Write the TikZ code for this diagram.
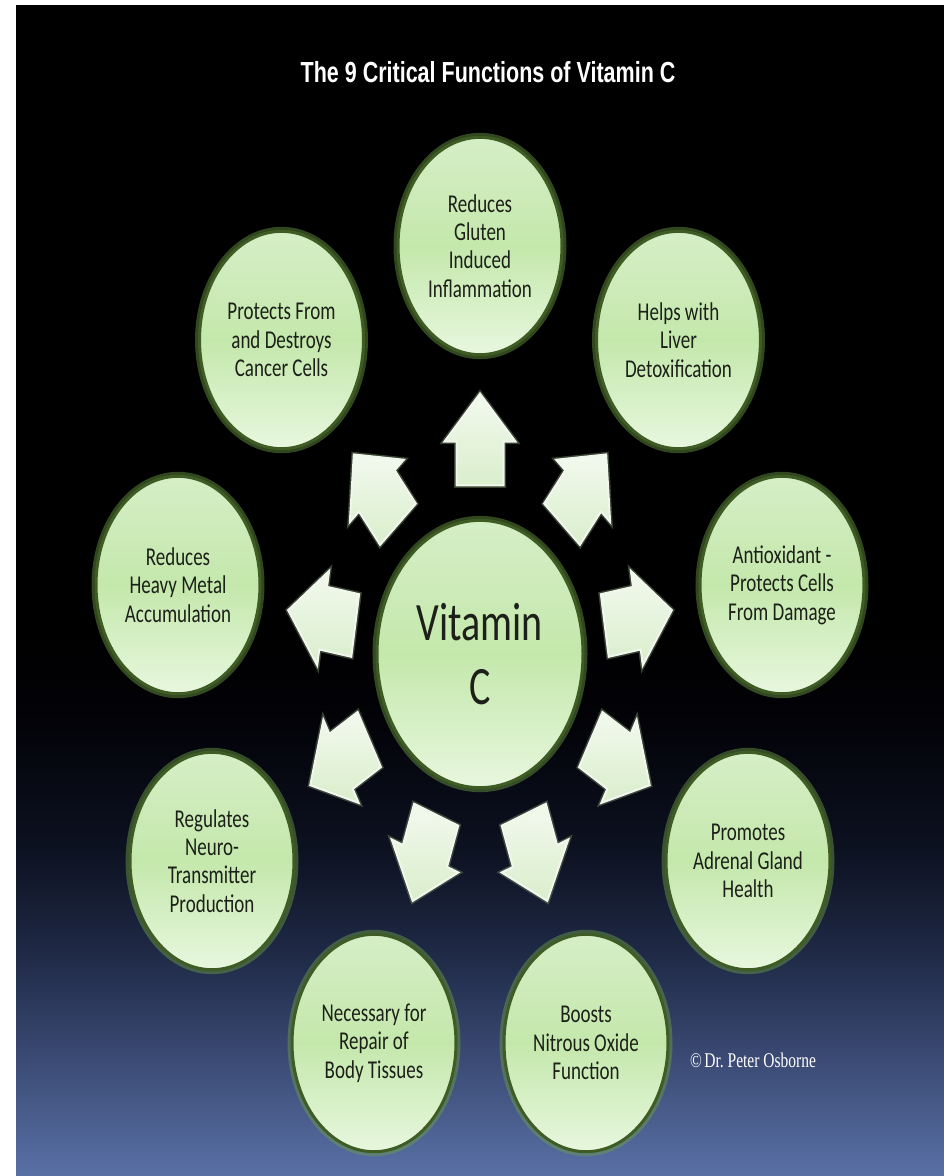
\documentclass[tikz,border=0pt]{standalone}
\usepackage{fontspec}
\usetikzlibrary{shapes.arrows,shapes.geometric,calc}
\newfontfamily\bodyfont{Carlito}
\newfontfamily\titlefont{Liberation Sans}
\newfontfamily\notefont{Liberation Serif}

\definecolor{ovalmid}{RGB}{196,232,172}
\definecolor{ovaltop}{RGB}{214,238,198}
\definecolor{ovalbot}{RGB}{232,247,222}
\definecolor{ovalrim}{RGB}{62,92,36}
\definecolor{ovalglow}{RGB}{110,160,70}
\definecolor{arrowtop}{RGB}{242,249,238}
\definecolor{arrowbot}{RGB}{218,238,204}
\definecolor{arrowrim}{RGB}{242,246,238}
\definecolor{arrowglow}{RGB}{90,110,80}
\definecolor{inktext}{RGB}{28,32,24}

% night sky backdrop: black at the top, fading to slate blue at the bottom
\pgfdeclareverticalshading{nightsky}{100bp}{%
  rgb(0bp)=(0.35,0.44,0.65); rgb(25bp)=(0.35,0.44,0.65);
  rgb(30.4bp)=(0.22,0.28,0.44); rgb(34.65bp)=(0.12,0.16,0.27);
  rgb(38.9bp)=(0.05,0.07,0.13); rgb(44.5bp)=(0.01,0.01,0.03);
  rgb(48.7bp)=(0,0,0); rgb(100bp)=(0,0,0)}

\tikzset{
  oval/.style={ellipse, yscale=1.35, inner sep=0pt, align=center,
    top color=ovaltop, bottom color=ovalbot, middle color=ovalmid,
    draw=ovalrim, line width=3pt,
    preaction={draw=ovalglow, line width=9pt, opacity=0.45},
    font=\bodyfont\fontsize{19}{21}\selectfont, text=inktext},
  fn/.style={oval, minimum width=164pt, minimum height=161pt},
  hub/.style={oval, minimum width=206pt, minimum height=198pt,
    font=\bodyfont\fontsize{40}{47}\selectfont},
  blockarrow/.style={single arrow, yscale=1.35,
    inner xsep=0pt, inner ysep=22.5pt,
    minimum height=68pt, minimum width=69pt,
    single arrow head extend=12pt, single arrow tip angle=90,
    top color=arrowtop, bottom color=arrowbot,
    draw=arrowrim, line width=2pt,
    preaction={draw=arrowglow, line width=5pt, opacity=0.6}},
  heading/.style={font=\titlefont\bfseries\fontsize{21.5}{24}\selectfont,
    text=white, yscale=1.35, anchor=base},
  credit/.style={font=\notefont\fontsize{15.5}{18}\selectfont,
    text=white, yscale=1.35}
}

\begin{document}
\begin{tikzpicture}[x=1pt,y=-1pt]
  \useasboundingbox (0,0) rectangle (944,1176);
  \fill[white] (0,0) rectangle (944,1176);
  \shade[shading=nightsky] (16,5) rectangle (944,1176);

  \node[heading] (title) at (488,82) {The 9 Critical Functions of Vitamin C};

  % central hub
  \node[hub] (vc) at (480,654) {Vitamin\\C};

  % the nine functions
  \node[fn] (e1) at (480,246)   {Reduces\\Gluten\\Induced\\Inflammation};
  \node[fn] (e2) at (281.5,340) {Protects From\\and Destroys\\Cancer Cells};
  \node[fn] (e3) at (678.5,340) {Helps with\\Liver\\Detoxification};
  \node[fn] (e4) at (178,585)   {Reduces\\Heavy Metal\\Accumulation};
  \node[fn] (e5) at (782,585)   {Antioxidant -\\Protects Cells\\From Damage};
  \node[fn] (e6) at (212,861)   {Regulates\\Neuro-\\Transmitter\\Production};
  \node[fn] (e7) at (748,861)   {Promotes\\Adrenal Gland\\Health};
  \node[fn] (e8) at (374,1043)  {Necessary for\\Repair of\\Body Tissues};
  \node[fn] (e9) at (586,1043)  {Boosts\\Nitrous Oxide\\Function};

  % block arrows from the hub towards each function
  \foreach \e/\a [count=\i] in {e1/90, e2/130.5, e3/49.5, e4/170.4, e5/9.6,
                                e6/209.8, e7/-29.8, e8/-110.2, e9/-69.8}
    \node[blockarrow, rotate=\a, anchor=tail] (arr\i) at ($(vc)!0.41!(\e)$) {};

  \node[credit] (note) at (753,1060) {\textcopyright\,Dr.\ Peter Osborne};
\end{tikzpicture}
\end{document}
